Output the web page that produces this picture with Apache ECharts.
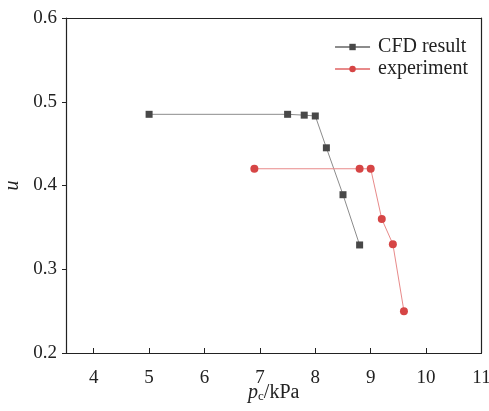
<!DOCTYPE html>
<html>
<head>
<meta charset="utf-8">
<script src="https://cdn.jsdelivr.net/npm/echarts@6/dist/echarts.min.js"></script>
<style>
html,body{margin:0;padding:0;background:#fff;}
#chart{width:489px;height:411px;}
</style>
</head>
<body>
<div id="chart"></div>
<script>
// Pressure p_c (kPa) and u values for the two series
const cfdX = [5.0, 7.5, 7.8, 8.0, 8.2, 8.5, 8.8];
const cfdY = [0.485, 0.485, 0.484, 0.483, 0.445, 0.389, 0.329];
const expX = [6.9, 8.8, 9.0, 9.2, 9.4, 9.6];
const expY = [0.42, 0.42, 0.42, 0.36, 0.33, 0.25];
const xTicks = [4, 5, 6, 7, 8, 9, 10, 11];
const yTicks = [0.2, 0.3, 0.4, 0.5, 0.6];
const seriesNames = ['CFD result', 'experiment'];

const pairs = (xs, ys) => xs.map((x, i) => [x, ys[i]]);
const font = 'Liberation Serif';
const ink = '#222';

const chart = echarts.init(document.getElementById('chart'));
chart.setOption({
  animation: false,
  backgroundColor: '#fff',
  textStyle: { fontFamily: font },
  grid: { left: 66, right: 7.5, top: 18, bottom: 58, show: false,
    containLabel: false, outerBoundsMode: 'none' },
  legend: {
    right: 16, top: 32, orient: 'vertical', itemGap: 2,
    itemWidth: 35, itemHeight: 8,
    textStyle: { fontFamily: font, fontSize: 20, lineHeight: 20, color: ink, padding: [0, 0, 0, 3] },
    data: seriesNames
  },
  xAxis: [{
    type: 'value', min: 3.5, max: 11, interval: 0.5,
    axisLine: { show: true, onZero: false, lineStyle: { color: ink, width: 1.2 } },
    axisTick: { show: true, inside: true, length: 5, lineStyle: { color: ink },
      customValues: xTicks },
    axisLabel: { fontFamily: font, fontSize: 19, color: ink, margin: 16,
      customValues: xTicks, formatter: v => String(v) },
    splitLine: { show: false },
    name: '{i|p}{s|c}{n|/kPa}', nameLocation: 'middle', nameGap: 30,
    nameMoveOverlap: false,
    nameTextStyle: { rich: {
      i: { fontFamily: font, fontStyle: 'italic', fontSize: 20, lineHeight: 20, color: ink },
      s: { fontFamily: font, fontSize: 13, lineHeight: 13, color: ink, verticalAlign: 'bottom', padding: [6, 0, 0, 0] },
      n: { fontFamily: font, fontSize: 20, lineHeight: 20, color: ink }
    } }
  }, {
    type: 'value', position: 'top', min: 3.5, max: 11,
    axisLine: { show: true, lineStyle: { color: ink, width: 1.2 } },
    axisTick: { show: false }, axisLabel: { show: false }, splitLine: { show: false }
  }],
  yAxis: [{
    type: 'value', min: 0.2, max: 0.6, interval: 0.1,
    axisLine: { show: true, onZero: false, lineStyle: { color: ink, width: 1.2 } },
    axisTick: { show: true, inside: false, length: 4, lineStyle: { color: ink } },
    axisLabel: { fontFamily: font, fontSize: 19, color: ink, margin: 9,
      customValues: yTicks, formatter: v => v.toFixed(1) },
    splitLine: { show: false },
    name: 'u', nameLocation: 'middle', nameGap: 43, nameMoveOverlap: false,
    nameTextStyle: { fontFamily: font, fontStyle: 'italic', fontSize: 20, color: ink }
  }, {
    type: 'value', position: 'right', min: 0.2, max: 0.6,
    axisLine: { show: true, lineStyle: { color: ink, width: 1.2 } },
    axisTick: { show: false }, axisLabel: { show: false }, splitLine: { show: false }
  }],
  series: [{
    name: seriesNames[0], type: 'line', data: pairs(cfdX, cfdY),
    symbol: 'rect', symbolSize: 7,
    itemStyle: { color: '#484848' },
    lineStyle: { color: '#8c8c8c', width: 1 }
  }, {
    name: seriesNames[1], type: 'line', data: pairs(expX, expY),
    symbol: 'circle', symbolSize: 8,
    itemStyle: { color: '#d64545' },
    lineStyle: { color: '#e88a8a', width: 1 }
  }]
});
</script>
</body>
</html>
